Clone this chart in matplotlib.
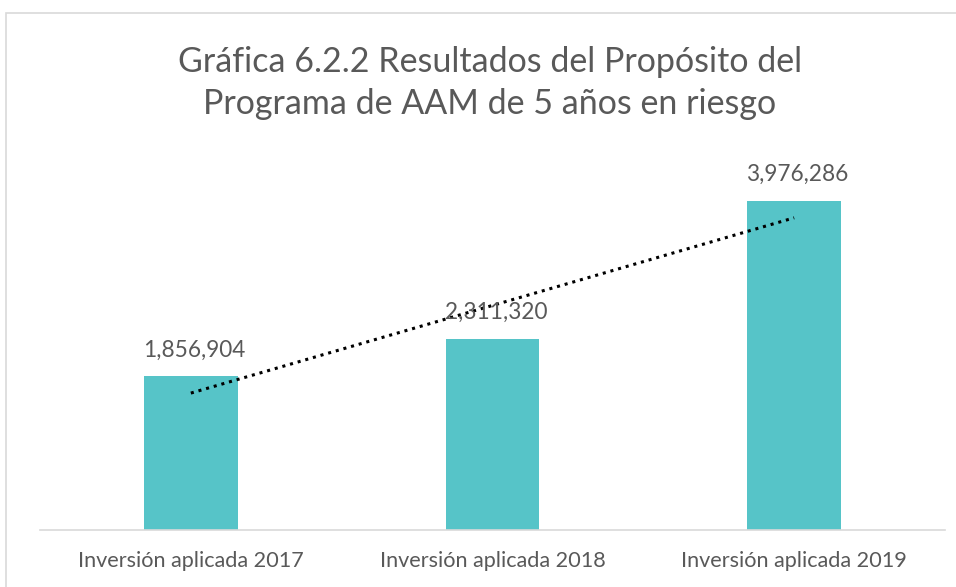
import numpy as np
import matplotlib
matplotlib.use("Agg")
import matplotlib.pyplot as plt
from matplotlib.patches import Rectangle

# datos de la grafica
categorias = ["Inversión aplicada 2017", "Inversión aplicada 2018", "Inversión aplicada 2019"]
valores = [1856904, 2311320, 3976286]
titulo = "Gráfica 6.2.2 Resultados del Propósito del\nPrograma de AAM de 5 años en riesgo"

W, H = 956, 587
plt.rcParams['font.family'] = ['Lato', 'DejaVu Sans']

fig = plt.figure(figsize=(W / 100, H / 100), dpi=100)

# marco gris del area del grafico
fig.patches.append(Rectangle((6 / W, -0.05), 1.0, 1 - 13 / H + 0.05, transform=fig.transFigure,
                             fill=False, edgecolor="#D9D9D9", linewidth=1.2))

# ejes en pixeles: x 40-945, y base en 530
ax = fig.add_axes([40 / W, (H - 530) / H, 905 / W, 380 / H])
x = np.arange(len(valores))
ax.bar(x, valores, width=0.31, color="#56C4C8", zorder=2)

# linea de tendencia lineal
m, b = np.polyfit(x, valores, 1)
ax.plot(x, m * x + b, color="black", linestyle=(0, (1, 1.6)), linewidth=2.2, zorder=3)

for xi, v in zip(x, valores):
    ax.text(xi - 0.158, v + 320000, f"{v:,}", ha="left", va="center", fontsize=16.3,
            color="#595959")

ax.set_xlim(-0.5, 2.5)
ax.set_ylim(0, 380 * 12090)
ax.set_xticks(x)
ax.set_xticklabels(categorias, fontsize=15.6, color="#595959")
ax.tick_params(axis="x", length=0, pad=15)
ax.set_yticks([])
for s in ["top", "right", "left"]:
    ax.spines[s].set_visible(False)
ax.spines["bottom"].set_color("#D9D9D9")
ax.spines["bottom"].set_linewidth(1.2)

fig.text(490 / W, 1 - 83 / H, titulo, ha="center", va="center", fontsize=24.5, color="#595959",
         linespacing=1.4)

fig.savefig("out.png", dpi=100)
